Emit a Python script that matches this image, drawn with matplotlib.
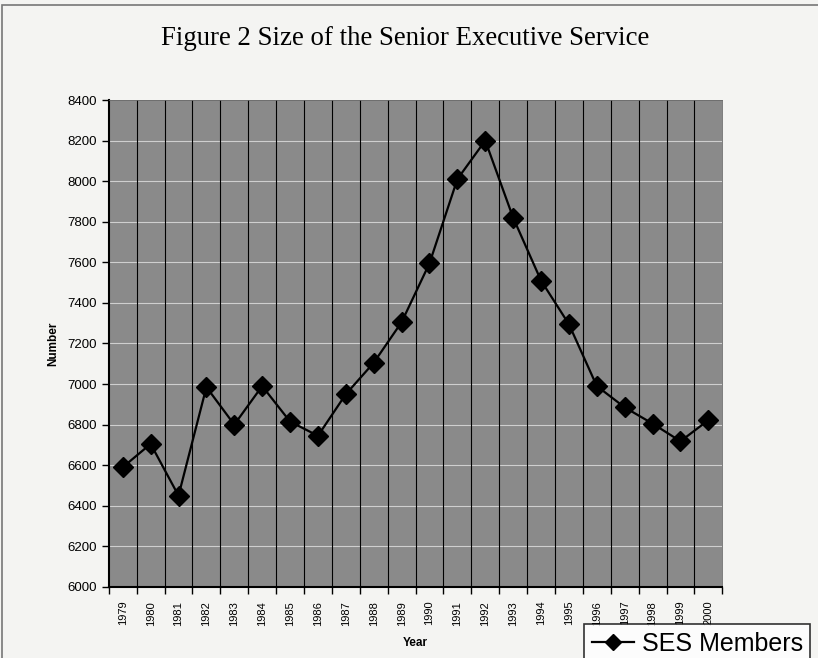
import matplotlib
matplotlib.use('Agg')
import matplotlib.pyplot as plt
from matplotlib.patches import Rectangle
import numpy as np

# Data
years = ['1979', '1980', '1981', '1982', '1983', '1984', '1985', '1986', '1987', '1988', '1989',
         '1990', '1991', '1992', '1993', '1994', '1995', '1996', '1997', '1998', '1999', '2000']
ses_members = [6590, 6705, 6450, 6985, 6800, 6990, 6815, 6745, 6950, 7105, 7305,
               7595, 8010, 8200, 7820, 7510, 7295, 6990, 6885, 6805, 6718, 6822]
y_ticks = [6000, 6200, 6400, 6600, 6800, 7000, 7200, 7400, 7600, 7800, 8000, 8200, 8400]

fig = plt.figure(figsize=(8.18, 6.58), dpi=100)
fig.patch.set_facecolor('#f4f4f2')
ax = fig.add_axes([0.133, 0.108, 0.750, 0.740])
ax.set_facecolor('#8a8a8a')

x = np.arange(len(years))

# horizontal grid (light) and vertical category dividers (black)
for v in y_ticks[1:-1]:
    ax.axhline(v, color='#cfcfcf', linewidth=0.8, zorder=1)
for b in np.arange(0.5, len(years) - 0.5, 1):
    ax.axvline(b, color='black', linewidth=0.8, zorder=1)

line, = ax.plot(x, ses_members, color='black', linewidth=1.6, marker='D', markersize=10,
                markerfacecolor='black', markeredgecolor='black', zorder=3, label='SES Members')

ax.set_xlim(-0.5, len(years) - 0.5)
ax.set_ylim(6000, 8400)
ax.set_yticks(y_ticks)
ax.set_yticklabels([str(v) for v in y_ticks], fontsize=9.5, family='Liberation Sans')
ax.set_xticks(x)
ax.set_xticklabels(years, rotation=90, fontsize=8, family='Liberation Sans')
ax.set_xticks(np.arange(-0.5, len(years), 1), minor=True)
ax.tick_params(axis='x', which='major', length=0, pad=10)
ax.tick_params(axis='x', which='minor', length=5, direction='out', width=1)
ax.tick_params(axis='y', length=5, direction='out', width=1)

for side in ['top', 'right']:
    ax.spines[side].set_color('#6a6a6a')
    ax.spines[side].set_linewidth(0.6)
for side in ['left', 'bottom']:
    ax.spines[side].set_linewidth(1.5)

ax.set_xlabel('Year', fontsize=8.5, fontweight='bold', family='Liberation Sans', labelpad=8)
ax.set_ylabel('Number', fontsize=8.5, fontweight='bold', family='Liberation Sans', labelpad=6)

fig.text(0.495, 0.942, 'Figure 2 Size of the Senior Executive Service', ha='center', va='center',
         fontsize=19.3, family='Liberation Serif')

# outer frame of the scanned chart
fig.patches.append(Rectangle((0.003, -0.01), 1.2, 1.003, transform=fig.transFigure,
                             fill=False, edgecolor='#777777', linewidth=1.2))

leg = fig.legend(handles=[line], loc='lower left', bbox_to_anchor=(0.714, -0.008),
                 prop={'family': 'Liberation Sans', 'size': 18}, frameon=True, fancybox=False,
                 handlelength=1.7, borderpad=0.3, borderaxespad=0, handletextpad=0.3,
                 markerscale=0.8)
leg.get_frame().set_edgecolor('black')
leg.get_frame().set_linewidth(1.2)
leg.get_frame().set_facecolor('white')

fig.savefig('out.png', dpi=100, facecolor=fig.get_facecolor())
